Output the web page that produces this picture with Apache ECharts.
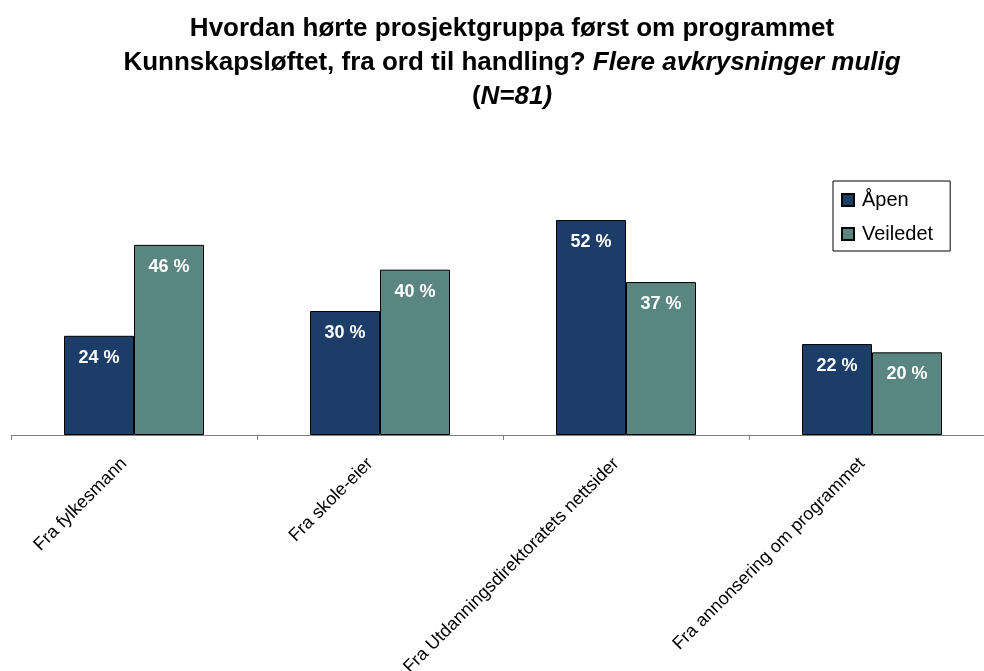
<!DOCTYPE html>
<html>
<head>
<meta charset="utf-8">
<script src="https://cdn.jsdelivr.net/npm/echarts@6/dist/echarts.min.js"></script>
<style>
  html, body { margin: 0; padding: 0; background: #fff; }
  #chart { width: 984px; height: 671px; }
</style>
</head>
<body>
<div id="chart"></div>
<script>
// categories and values (percent)
const categories = [
  'Fra fylkesmann',
  'Fra skole-eier',
  'Fra Utdanningsdirektoratets nettsider',
  'Fra annonsering om programmet'
]
const seriesNames = ['Åpen', 'Veiledet']
const apen = [24, 30, 52, 22]
const veiledet = [46, 40, 37, 20]

const font = '"Liberation Sans", Arial, sans-serif'
const chart = echarts.init(document.getElementById('chart'))

const labelStyle = {
  show: true,
  position: 'insideTop',
  distance: 13,
  color: '#fff',
  fontFamily: font,
  fontWeight: 'bold',
  fontSize: 18,
  formatter: '{c} %'
}

const option = {
  animation: false,
  title: {
    text: 'Hvordan hørte prosjektgruppa først om programmet\n' +
      'Kunnskapsløftet, fra ord til handling? {i|Flere avkrysninger mulig}\n' +
      '({i|N=81)}',
    left: 512,
    textAlign: 'center',
    top: 12,
    padding: 0,
    textStyle: {
      fontFamily: font,
      fontWeight: 'bold',
      fontSize: 26,
      lineHeight: 34,
      color: '#000',
      rich: {
        i: {
          fontFamily: font,
          fontWeight: 'bold',
          fontStyle: 'italic',
          fontSize: 26,
          lineHeight: 34,
          color: '#000'
        }
      }
    }
  },
  legend: {
    data: seriesNames,
    orient: 'vertical',
    left: 833,
    top: 181,
    padding: [9, 17, 7, 8],
    itemGap: 14,
    itemWidth: 12,
    itemHeight: 12,
    icon: 'rect',
    borderColor: '#000',
    borderWidth: 1,
    borderRadius: 0,
    textStyle: {
      fontFamily: font,
      fontSize: 20,
      color: '#000',
      padding: [0, 0, 0, 3]
    }
  },
  grid: {
    left: 11,
    top: 187,
    width: 984,
    bottom: 236,
    containLabel: false,
    outerBoundsMode: 'none'
  },
  xAxis: {
    type: 'category',
    data: categories,
    axisLine: { lineStyle: { color: '#7f7f7f', width: 1 } },
    axisTick: { show: true, length: 5, lineStyle: { color: '#7f7f7f' } },
    axisLabel: {
      rotate: 45,
      margin: 16,
      padding: [0, 14, 0, 0],
      interval: 0,
      color: '#000',
      fontFamily: font,
      fontSize: 18
    }
  },
  yAxis: {
    type: 'value',
    min: 0,
    max: 60,
    show: false,
    splitLine: { show: false }
  },
  series: [
    {
      name: seriesNames[0],
      type: 'bar',
      data: apen,
      barWidth: 70,
      barGap: '0%',
      itemStyle: { color: '#1b3d68', borderColor: '#000', borderWidth: 1 },
      label: labelStyle
    },
    {
      name: seriesNames[1],
      type: 'bar',
      data: veiledet,
      barWidth: 70,
      barGap: '0%',
      itemStyle: { color: '#5a8682', borderColor: '#000', borderWidth: 1 },
      label: labelStyle
    }
  ]
}

chart.setOption(option)
</script>
</body>
</html>
